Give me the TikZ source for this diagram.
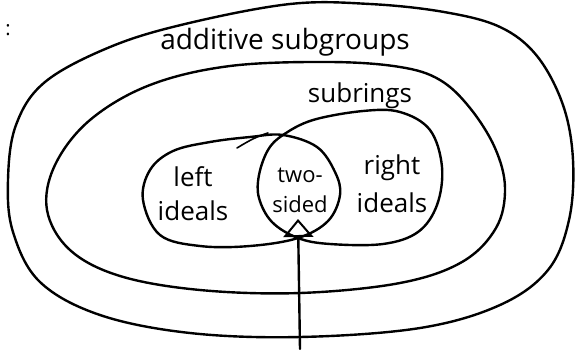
\documentclass[tikz,border=0pt]{standalone}
\usepackage{fontspec}
\setmainfont{Open Sans}
\usetikzlibrary{arrows.meta}
\tikzset{
  pen/.style={line width=2.4pt, line cap=round, line join=round, black},
  lbl/.style={inner sep=0pt, align=center, text=black},
}
\begin{document}
\begin{tikzpicture}[x=1pt,y=-1pt]
\useasboundingbox (0,0) rectangle (581,349);
% outer: additive subgroups
\draw[pen] plot[smooth cycle, tension=0.6] coordinates {
 (290,4) (370,4) (444,12) (500,27) (537,56) (563,105) (573,160) (569,220)
 (548,270) (500,305) (420,328) (300,337) (190,333) (100,315) (40,282)
 (13,232) (8,180) (16,125) (45,82) (110,47) (185,24)};
% inner: subrings
\draw[pen] plot[smooth cycle, tension=0.6] coordinates {
 (330,62) (400,67) (440,80) (470,108) (495,148) (505,188) (496,228)
 (462,262) (400,283) (300,293) (200,290) (120,276) (70,250) (47,210)
 (55,165) (90,120) (150,85) (230,66)};
% left ideals
\draw[pen] plot[smooth cycle, tension=0.6] coordinates {
 (143,200) (150,170) (173,151) (210,142) (250,137) (283,135) (317,147)
 (335,172) (340,195) (328,221) (298,238) (250,246) (200,246) (160,235)};
\draw[pen, line width=1.6pt] (237,148) .. controls (250,140) and (258,136) .. (268,133);
% right ideals
\draw[pen] plot[smooth cycle, tension=0.6] coordinates {
 (259,175) (268,150) (283,135) (313,120) (363,111) (400,112) (430,130)
 (442,167) (437,205) (418,232) (383,244) (330,244) (298,238) (272,222)
 (259,198)};
% labels
\node[lbl, font=\fontsize{28}{30}\selectfont] (addsub) at (285,42) {additive subgroups};
\node[lbl, font=\fontsize{26}{28}\selectfont] (subr) at (360,96) {subrings};
\node[lbl, font=\fontsize{26}{34}\selectfont] (left) at (193,194) {left\\ideals};
\node[lbl, font=\fontsize{22}{30}\selectfont] (two) at (300,190) {two-\\sided};
\node[lbl, font=\fontsize{26}{38}\selectfont] (right) at (392,184) {right\\ideals};
\node[lbl, font=\fontsize{20}{22}\selectfont] (colon) at (8,30) {:};
% arrow to two-sided ideals
\coordinate (tip) at (298,219);
\coordinate (foot) at (300,349);
\draw[pen, -{Triangle[open, length=18pt, width=30pt, line width=2pt]}] (foot) -- (tip);
\end{tikzpicture}
\end{document}
